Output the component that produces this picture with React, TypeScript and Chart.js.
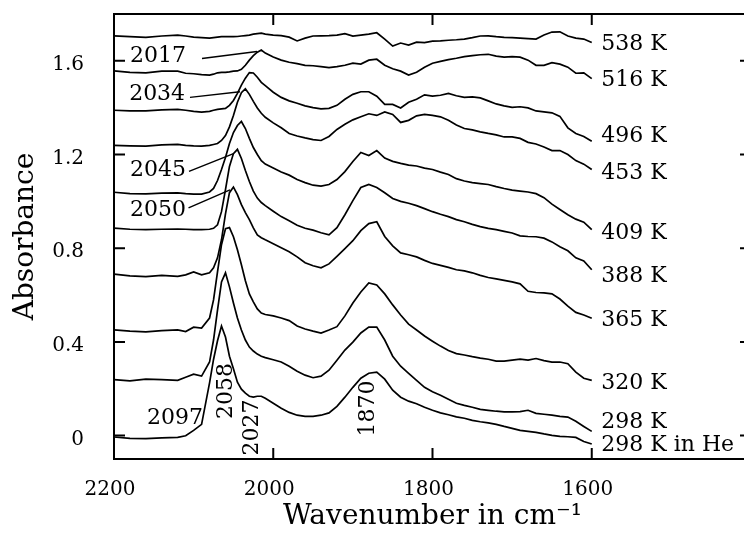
import React, { useEffect, useRef } from 'react';
import { Chart, registerables } from 'chart.js';

Chart.register(...registerables);

const FONT = '"DejaVu Serif", "Liberation Serif", serif';

// Shared wavenumber grid (cm-1)
const wavenumbers = [
  2200, 2180, 2160, 2140, 2120, 2110, 2100, 2090, 2080,
  2075, 2070, 2065, 2060, 2055, 2050, 2045, 2040, 2035, 2030, 2025, 2020, 2015, 2010,
  2000, 1990, 1980, 1970, 1960, 1950, 1940, 1930, 1920, 1910, 1900, 1890, 1880, 1870,
  1860, 1850, 1840, 1830, 1820, 1810, 1800, 1790, 1780, 1770, 1760, 1750, 1740, 1730,
  1720, 1710, 1700, 1690, 1680, 1670, 1660, 1650, 1640, 1630, 1620, 1610, 1600,
];

// Absorbance spectra (offset as in the figure)
const abs538K = [
  1.707, 1.703, 1.700, 1.706, 1.710, 1.706, 1.701, 1.699, 1.697,
  1.699, 1.701, 1.703, 1.703, 1.703, 1.703, 1.704, 1.706, 1.708, 1.710, 1.714, 1.716, 1.718, 1.714,
  1.710, 1.708, 1.701, 1.685, 1.697, 1.706, 1.707, 1.708, 1.710, 1.716, 1.706, 1.710, 1.714, 1.720,
  1.693, 1.663, 1.676, 1.667, 1.680, 1.678, 1.684, 1.685, 1.688, 1.690, 1.693, 1.699, 1.706, 1.707,
  1.703, 1.700, 1.699, 1.697, 1.695, 1.693, 1.710, 1.723, 1.724, 1.706, 1.697, 1.693, 1.678,
];
const abs516K = [
  1.557, 1.551, 1.549, 1.556, 1.556, 1.547, 1.545, 1.541, 1.539,
  1.543, 1.549, 1.551, 1.551, 1.553, 1.556, 1.557, 1.564, 1.581, 1.603, 1.622, 1.637, 1.646, 1.633,
  1.616, 1.603, 1.594, 1.588, 1.581, 1.579, 1.575, 1.571, 1.575, 1.581, 1.590, 1.586, 1.603, 1.607,
  1.581, 1.566, 1.556, 1.539, 1.551, 1.573, 1.590, 1.598, 1.605, 1.611, 1.618, 1.622, 1.626, 1.628,
  1.620, 1.616, 1.618, 1.616, 1.603, 1.581, 1.581, 1.592, 1.586, 1.573, 1.547, 1.549, 1.524,
];
const abs496K = [
  1.389, 1.386, 1.386, 1.391, 1.393, 1.389, 1.384, 1.381, 1.384,
  1.389, 1.393, 1.395, 1.397, 1.410, 1.431, 1.461, 1.496, 1.526, 1.550, 1.548, 1.530, 1.508, 1.494,
  1.466, 1.444, 1.429, 1.419, 1.408, 1.400, 1.395, 1.397, 1.410, 1.436, 1.457, 1.468, 1.468, 1.449,
  1.414, 1.414, 1.399, 1.423, 1.436, 1.455, 1.449, 1.453, 1.461, 1.451, 1.444, 1.446, 1.442, 1.429,
  1.416, 1.408, 1.401, 1.404, 1.399, 1.386, 1.382, 1.378, 1.363, 1.314, 1.290, 1.277, 1.257,
];
const abs453K = [
  1.239, 1.237, 1.236, 1.241, 1.243, 1.239, 1.237, 1.236, 1.239,
  1.243, 1.247, 1.260, 1.281, 1.318, 1.367, 1.423, 1.464, 1.481, 1.457, 1.427, 1.399, 1.376, 1.359,
  1.335, 1.314, 1.290, 1.279, 1.271, 1.264, 1.260, 1.277, 1.307, 1.329, 1.348, 1.361, 1.374, 1.367,
  1.382, 1.371, 1.337, 1.346, 1.365, 1.371, 1.367, 1.361, 1.346, 1.326, 1.311, 1.305, 1.297, 1.290,
  1.284, 1.275, 1.275, 1.269, 1.252, 1.245, 1.232, 1.217, 1.217, 1.200, 1.174, 1.159, 1.136,
];
const abs409K = [
  1.039, 1.033, 1.032, 1.035, 1.036, 1.033, 1.031, 1.031, 1.040,
  1.055, 1.089, 1.136, 1.187, 1.247, 1.294, 1.324, 1.341, 1.311, 1.269, 1.230, 1.200, 1.174, 1.159,
  1.142, 1.125, 1.112, 1.093, 1.080, 1.069, 1.065, 1.072, 1.093, 1.127, 1.170, 1.209, 1.196, 1.217,
  1.185, 1.171, 1.162, 1.155, 1.151, 1.142, 1.136, 1.125, 1.115, 1.097, 1.087, 1.080, 1.076, 1.072,
  1.063, 1.055, 1.048, 1.044, 1.040, 1.033, 1.016, 0.988, 0.965, 0.943, 0.924, 0.911, 0.879,
];
const abs388K = [
  0.886, 0.881, 0.879, 0.881, 0.882, 0.881, 0.879, 0.879, 0.881,
  0.885, 0.900, 0.956, 1.050, 1.149, 1.204, 1.222, 1.183, 1.132, 1.085, 1.044, 1.014, 0.995, 0.982,
  0.958, 0.935, 0.917, 0.898, 0.885, 0.877, 0.866, 0.857, 0.888, 0.943, 1.003, 1.059, 1.072, 1.059,
  1.037, 1.012, 1.000, 0.992, 0.982, 0.969, 0.956, 0.945, 0.935, 0.922, 0.913, 0.902, 0.892, 0.885,
  0.879, 0.872, 0.865, 0.853, 0.850, 0.849, 0.843, 0.827, 0.806, 0.789, 0.759, 0.746, 0.708,
];
const abs365K = [
  0.689, 0.682, 0.679, 0.684, 0.680, 0.686, 0.699, 0.686, 0.695,
  0.716, 0.759, 0.836, 0.947, 1.037, 1.061, 1.029, 0.986, 0.952, 0.922, 0.887, 0.857, 0.845, 0.836,
  0.819, 0.802, 0.785, 0.763, 0.738, 0.725, 0.716, 0.733, 0.765, 0.798, 0.832, 0.875, 0.905, 0.913,
  0.850, 0.810, 0.780, 0.772, 0.763, 0.748, 0.735, 0.727, 0.718, 0.708, 0.703, 0.695, 0.684, 0.675,
  0.669, 0.663, 0.656, 0.648, 0.616, 0.611, 0.609, 0.605, 0.583, 0.553, 0.526, 0.515, 0.501,
];
const abs320K = [
  0.451, 0.446, 0.443, 0.448, 0.451, 0.444, 0.463, 0.459, 0.502,
  0.579, 0.699, 0.815, 0.883, 0.888, 0.849, 0.793, 0.729, 0.661, 0.605, 0.571, 0.541, 0.523, 0.517,
  0.511, 0.502, 0.491, 0.468, 0.455, 0.446, 0.438, 0.451, 0.465, 0.511, 0.566, 0.613, 0.652, 0.643,
  0.605, 0.558, 0.515, 0.476, 0.451, 0.425, 0.403, 0.382, 0.363, 0.350, 0.344, 0.337, 0.331, 0.326,
  0.318, 0.318, 0.322, 0.326, 0.322, 0.329, 0.320, 0.314, 0.314, 0.307, 0.271, 0.245, 0.236,
];
const abs298K = [
  0.239, 0.234, 0.241, 0.239, 0.236, 0.249, 0.262, 0.254, 0.314,
  0.408, 0.536, 0.656, 0.695, 0.635, 0.566, 0.502, 0.451, 0.408, 0.378, 0.361, 0.348, 0.339, 0.333,
  0.324, 0.314, 0.296, 0.275, 0.258, 0.247, 0.254, 0.279, 0.322, 0.365, 0.399, 0.438, 0.463, 0.463,
  0.408, 0.339, 0.296, 0.266, 0.236, 0.206, 0.187, 0.172, 0.155, 0.138, 0.129, 0.121, 0.112, 0.108,
  0.104, 0.101, 0.101, 0.102, 0.108, 0.095, 0.091, 0.087, 0.082, 0.079, 0.061, 0.039, 0.018,
];
const abs298KHe = [
  -0.006, -0.012, -0.013, -0.010, -0.008, -0.001, 0.022, 0.048, 0.225,
  0.325, 0.405, 0.468, 0.421, 0.339, 0.285, 0.228, 0.198, 0.181, 0.168, 0.164, 0.168, 0.168, 0.159,
  0.138, 0.117, 0.099, 0.087, 0.082, 0.082, 0.087, 0.097, 0.125, 0.164, 0.206, 0.245, 0.266, 0.271,
  0.241, 0.194, 0.164, 0.147, 0.136, 0.121, 0.108, 0.097, 0.089, 0.080, 0.074, 0.065, 0.059, 0.054,
  0.048, 0.039, 0.031, 0.022, 0.018, 0.014, 0.007, 0.001, -0.003, -0.005, -0.008, -0.025, -0.036,
];

const spectra = [abs538K, abs516K, abs496K, abs453K, abs409K, abs388K, abs365K, abs320K, abs298K, abs298KHe];

// Axis ticks
const xTicks = [2200, 2000, 1800, 1600];
const yTicks = [0, 0.4, 0.8, 1.2, 1.6];

// Curve labels on the right
const curveLabels = ['538 K', '516 K', '496 K', '453 K', '409 K', '388 K', '365 K', '320 K', '298 K', '298 K in He'];
const curveLabelX = 1588;
const curveLabelY = [1.672, 1.518, 1.279, 1.121, 0.865, 0.682, 0.494, 0.224, 0.058, -0.040];

// Horizontal peak labels with leader lines
const peakLabels = ['2017', '2034', '2045', '2050', '2097'];
const peakLabelX = [2180, 2181, 2180, 2180, 2158.6];
const peakLabelY = [1.621, 1.457, 1.134, 0.963, 0.073];
const leaderFromX = [2089.5, 2104.6, 2105.8, 2106.4];
const leaderFromY = [1.610, 1.444, 1.128, 0.972];
const leaderToX = [2020.4, 2041.8, 2049.9, 2054.3];
const leaderToY = [1.640, 1.468, 1.204, 1.049];

// Rotated peak labels
const verticalLabels = ['2058', '2027', '1870'];
const verticalLabelX = [2059.3, 2025.8, 1880.4];
const verticalLabelY = [0.190, 0.035, 0.116];

const TICK_LEN = 11;

const framePlugin = {
  id: 'frameAndAnnotations',
  afterDatasetsDraw(chart: any) {
    const { ctx, chartArea, scales } = chart;
    const { left, right, top, bottom } = chartArea;
    const xs = scales.x;
    const ys = scales.y;
    ctx.save();
    ctx.strokeStyle = '#000';
    ctx.lineWidth = 2;
    ctx.strokeRect(left, top, right - left, bottom - top);

    ctx.beginPath();
    xTicks.forEach((v) => {
      const px = xs.getPixelForValue(v);
      ctx.moveTo(px, bottom);
      ctx.lineTo(px, bottom - TICK_LEN);
      ctx.moveTo(px, top);
      ctx.lineTo(px, top + TICK_LEN);
    });
    yTicks.forEach((v) => {
      const py = ys.getPixelForValue(v);
      ctx.moveTo(left, py);
      ctx.lineTo(left + TICK_LEN, py);
      ctx.moveTo(right, py);
      ctx.lineTo(right - TICK_LEN, py);
    });
    ctx.stroke();

    // leader lines
    ctx.lineWidth = 1.5;
    ctx.beginPath();
    leaderFromX.forEach((fx, i) => {
      ctx.moveTo(xs.getPixelForValue(fx), ys.getPixelForValue(leaderFromY[i]));
      ctx.lineTo(xs.getPixelForValue(leaderToX[i]), ys.getPixelForValue(leaderToY[i]));
    });
    ctx.stroke();

    ctx.fillStyle = '#000';
    ctx.font = `22px ${FONT}`;
    ctx.textBaseline = 'middle';
    ctx.textAlign = 'left';
    curveLabels.forEach((t, i) => {
      ctx.fillText(t, xs.getPixelForValue(curveLabelX), ys.getPixelForValue(curveLabelY[i]));
    });
    peakLabels.forEach((t, i) => {
      ctx.fillText(t, xs.getPixelForValue(peakLabelX[i]), ys.getPixelForValue(peakLabelY[i]));
    });
    ctx.textAlign = 'center';
    verticalLabels.forEach((t, i) => {
      ctx.save();
      ctx.translate(xs.getPixelForValue(verticalLabelX[i]), ys.getPixelForValue(verticalLabelY[i]));
      ctx.rotate(-Math.PI / 2);
      ctx.fillText(t, 0, 0);
      ctx.restore();
    });
    ctx.restore();
  },
};

const zeroPadding = (s: any) => {
  s.paddingTop = 0;
  s.paddingBottom = 0;
  s.paddingLeft = 0;
  s.paddingRight = 0;
};

export default function App() {
  const canvasRef = useRef<HTMLCanvasElement>(null);

  useEffect(() => {
    const canvas = canvasRef.current;
    if (!canvas) return;
    const chart = new Chart(canvas, {
      type: 'line',
      data: {
        datasets: spectra.map((s, k) => ({
          label: curveLabels[k],
          data: wavenumbers.map((w, i) => ({ x: w, y: s[i] })),
          borderColor: '#000',
          borderWidth: 1.7,
          pointRadius: 0,
          tension: 0,
          fill: false,
        })),
      },
      options: {
        animation: false,
        responsive: false,
        maintainAspectRatio: false,
        layout: { padding: { left: 0, right: 9, top: 14, bottom: 0 } },
        plugins: { legend: { display: false }, tooltip: { enabled: false } },
        scales: {
          x: {
            type: 'linear',
            min: 1400,
            max: 2200,
            reverse: true,
            grid: { display: false },
            border: { display: false },
            afterBuildTicks: (s: any) => {
              s.ticks = xTicks.map((v) => ({ value: v }));
            },
            afterFit: (s: any) => {
              s.height = 77;
              zeroPadding(s);
            },
            ticks: {
              color: '#000',
              font: { family: FONT, size: 20 },
              padding: 11,
              labelOffset: -4,
              autoSkip: false,
              maxRotation: 0,
              callback: (v: any) => String(v),
            },
            title: {
              display: true,
              text: 'Wavenumber in cm\u207B\u00B9',
              color: '#000',
              font: { family: FONT, size: 28 },
              padding: { top: 0, bottom: 2 },
            },
          },
          y: {
            type: 'linear',
            min: -0.1,
            max: 1.8,
            grid: { display: false },
            border: { display: false },
            afterBuildTicks: (s: any) => {
              s.ticks = yTicks.map((v) => ({ value: v }));
            },
            afterFit: (s: any) => {
              s.width = 114;
              zeroPadding(s);
            },
            ticks: {
              color: '#000',
              font: { family: FONT, size: 20 },
              padding: 22,
              labelOffset: 4,
              autoSkip: false,
              callback: (v: any) => (Number(v) === 0 ? '0' : Number(v).toFixed(1)),
            },
            title: {
              display: true,
              text: 'Absorbance',
              color: '#000',
              font: { family: FONT, size: 28 },
              padding: { top: 9, bottom: 0 },
            },
          },
        },
      },
      plugins: [framePlugin],
    } as any);
    return () => chart.destroy();
  }, []);

  return (
    <div
      style={{
        position: 'fixed',
        left: 0,
        top: 0,
        width: 744,
        height: 536,
        overflow: 'hidden',
        background: '#fff',
      }}
    >
      <canvas
        ref={canvasRef}
        width={760}
        height={536}
        style={{ width: 760, height: 536, display: 'block' }}
      />
    </div>
  );
}
